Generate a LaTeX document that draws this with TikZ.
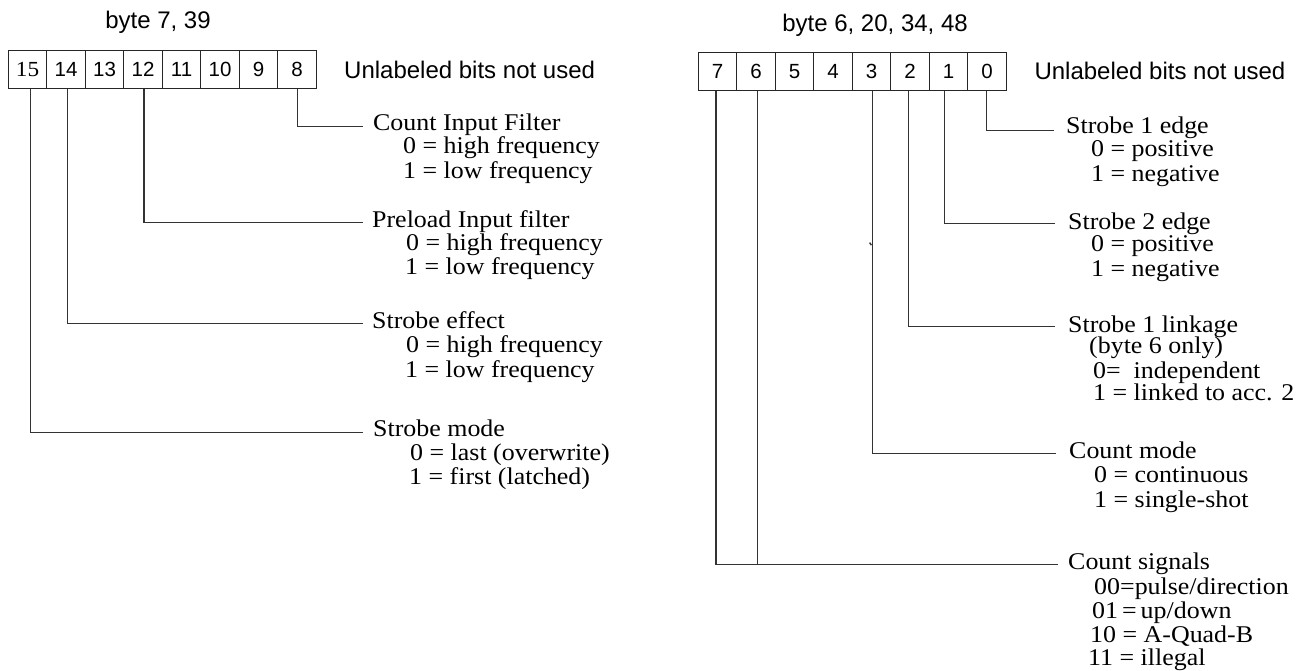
\documentclass[tikz,border=0pt]{standalone}
\usepackage{fontspec}
\setmainfont{Liberation Serif}[FakeStretch=1.08]
\setsansfont{Liberation Sans}
\begin{document}
\begin{tikzpicture}[x=1pt,y=-1pt,
  cell/.style={draw=black!85, line width=0.9pt, minimum width=38.5pt, minimum height=38.3pt,
               inner sep=0pt, font=\sffamily\fontsize{20.5}{20.5}\selectfont},
  serifcell/.style={cell, font=\rmfamily\fontsize{21.5}{21.5}\selectfont},
  lead/.style={draw=black!80, line width=1.2pt},
  sanslbl/.style={inner sep=0pt, font=\sffamily\fontsize{24}{24}\selectfont},
  ttl/.style={anchor=base west, inner sep=0pt, font=\rmfamily\fontsize{24}{24}\selectfont},
  val/.style={ttl}]
\useasboundingbox (0,0) rectangle (1305,671);

% ---------------- left register ----------------
\node[sanslbl, anchor=base] (lbyte) at (158,29) {byte 7, 39};
\node[serifcell] (L15) at (27.55,69.2) {15};
\node[cell] (L14) at (66.05,69.2) {14};
\node[cell] (L13) at (104.55,69.2) {13};
\node[cell] (L12) at (143.05,69.2) {12};
\node[cell] (L11) at (181.55,69.2) {11};
\node[cell] (L10) at (220.05,69.2) {10};
\node[cell] (L9) at (258.55,69.2) {9};
\node[cell] (L8) at (297.05,69.2) {8};
\node[sanslbl, anchor=base west] (lnote) at (344,79) {Unlabeled bits not used};

\coordinate (eL8) at (363,126.7);
\coordinate (eL12) at (363,222.7);
\coordinate (eL14) at (363,323.3);
\coordinate (eL15) at (363,432.3);
\draw[lead] ([xshift=0.6pt]L8.south) |- (eL8);
\draw[lead] ([xshift=1pt]L12.south) |- (eL12);
\draw[lead] ([xshift=1.3pt]L14.south) |- (eL14);
\draw[lead] ([xshift=3pt]L15.south) |- (eL15);

\node[ttl] (tCIF) at (373,131) {Count Input Filter};
\node[val] (tCIF0) at (403,154) {0 = high frequency};
\node[val] (tCIF1) at (403,178.5) {1 = low frequency};

\node[ttl] (tPIF) at (372,227.5) {Preload Input filter};
\node[val] (tPIF0) at (406,250) {0 = high frequency};
\node[val] (tPIF1) at (405,274.5) {1 = low frequency};

\node[ttl] (tSE) at (372,328) {Strobe effect};
\node[val] (tSE0) at (406,352) {0 = high frequency};
\node[val] (tSE1) at (405,377) {1 = low frequency};

\node[ttl] (tSM) at (373,436) {Strobe mode};
\node[val] (tSM0) at (410,460.5) {0 = last (overwrite)};
\node[val] (tSM1) at (409,484) {1 = first (latched)};

% ---------------- right register ----------------
\node[sanslbl, anchor=base] (rbyte) at (875,32) {byte 6, 20, 34, 48};
\node[cell] (R7) at (717.55,71.5) {7};
\node[cell] (R6) at (756.05,71.5) {6};
\node[cell] (R5) at (794.55,71.5) {5};
\node[cell] (R4) at (833.05,71.5) {4};
\node[cell] (R3) at (871.55,71.5) {3};
\node[cell] (R2) at (910.05,71.5) {2};
\node[cell] (R1) at (948.55,71.5) {1};
\node[cell] (R0) at (987.05,71.5) {0};
\node[sanslbl, anchor=base west] (rnote) at (1034.3,80) {Unlabeled bits not used};

\coordinate (eR0) at (1054,130.7);
\coordinate (eR1) at (1055,223.7);
\coordinate (eR2) at (1055,326.7);
\coordinate (eR3) at (1056,453.3);
\coordinate (eR76) at (1058,564.3);
\draw[lead] ([xshift=-0.4pt]R0.south) |- (eR0);
\draw[lead] ([xshift=-4pt]R1.south) |- (eR1);
\draw[lead] ([xshift=-1.7pt]R2.south) |- (eR2);
\draw[lead] ([xshift=0.8pt]R3.south) |- (eR3);
\draw[lead] ([xshift=-1.5pt]R7.south) |- (eR76);
\draw[lead] ([xshift=1.3pt]R6.south) -- ([xshift=1.3pt]R6.south |- eR76);
% small speck on the bit-3 line
\draw[lead, line width=1.4pt] (869.6,242.6) -- (871.4,245.2);

\node[ttl] (tS1E) at (1066,134) {Strobe 1 edge};
\node[val] (tS1E0) at (1091,157) {0 = positive};
\node[val] (tS1E1) at (1091,182) {1 = negative};

\node[ttl] (tS2E) at (1068,229) {Strobe 2 edge};
\node[val] (tS2E0) at (1091,251.5) {0 = positive};
\node[val] (tS2E1) at (1091,276.5) {1 = negative};

\node[ttl] (tS1L) at (1068,332) {Strobe 1 linkage};
\node[val] (tS1La) at (1089,353.5) {(byte 6 only)};
\node[val] (tS1L0) at (1093,378.5) {0=\ \ independent};
\node[val] (tS1L1) at (1093,400.5) {1 = linked to acc. 2};

\node[ttl] (tCM) at (1069,458.5) {Count mode};
\node[val] (tCM0) at (1094,482) {0 = continuous};
\node[val] (tCM1) at (1094,507) {1 = single-shot};

\node[ttl] (tCS) at (1068,569.5) {Count signals};
\node[val] (tCS00) at (1094,594) {00=pulse/direction};
\node[val] (tCS01) at (1092,618) {01\,=\,up/down};
\node[val] (tCS10) at (1090,642) {10 = A-Quad-B};
\node[val] (tCS11) at (1088,665) {11 = illegal};
\end{tikzpicture}
\end{document}
